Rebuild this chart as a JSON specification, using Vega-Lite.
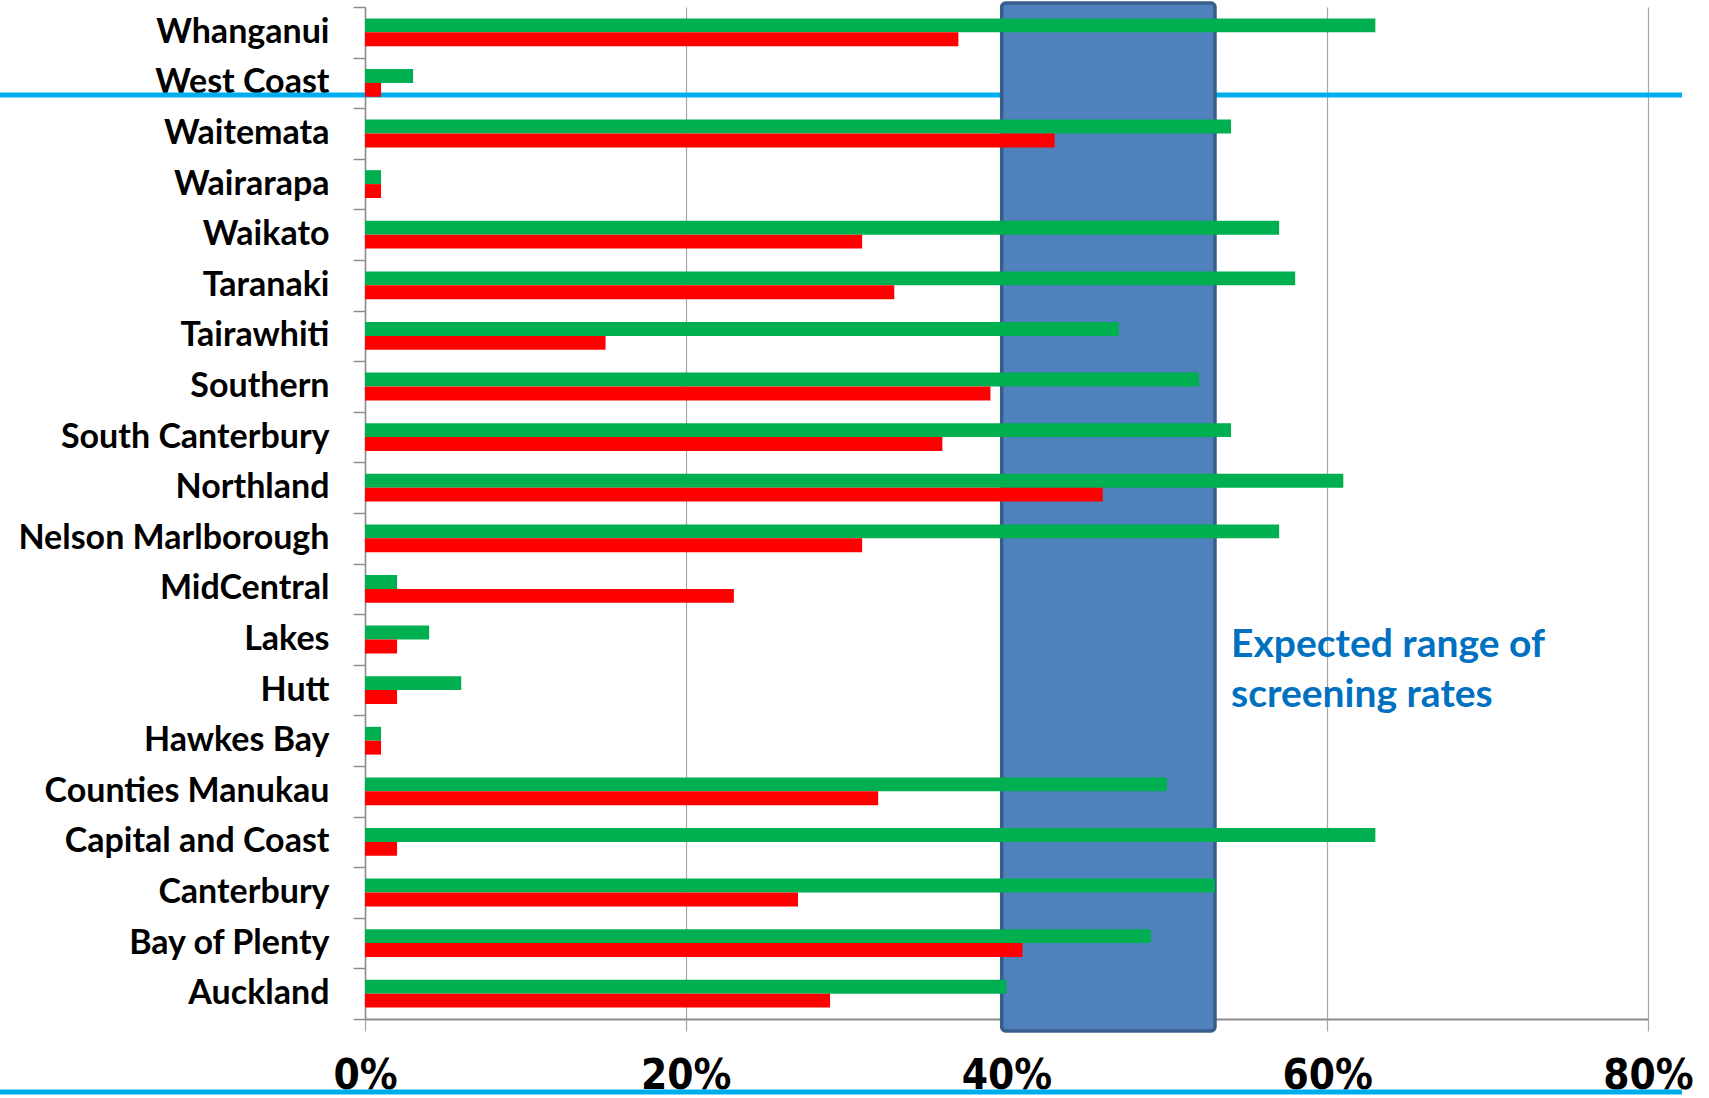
{
  "$schema": "https://vega.github.io/schema/vega-lite/v6.json",
  "width": 1283,
  "height": 1012,
  "autosize": {"type": "none"},
  "padding": {"left": 365, "top": 7, "right": 61, "bottom": 79},
  "background": "white",
  "config": {"view": {"stroke": null}},
  "datasets": {
    "rates": [
      {"district": "Whanganui", "series": "Series 1", "rate": 0.63},
      {"district": "Whanganui", "series": "Series 2", "rate": 0.37},
      {"district": "West Coast", "series": "Series 1", "rate": 0.03},
      {"district": "West Coast", "series": "Series 2", "rate": 0.01},
      {"district": "Waitemata", "series": "Series 1", "rate": 0.54},
      {"district": "Waitemata", "series": "Series 2", "rate": 0.43},
      {"district": "Wairarapa", "series": "Series 1", "rate": 0.01},
      {"district": "Wairarapa", "series": "Series 2", "rate": 0.01},
      {"district": "Waikato", "series": "Series 1", "rate": 0.57},
      {"district": "Waikato", "series": "Series 2", "rate": 0.31},
      {"district": "Taranaki", "series": "Series 1", "rate": 0.58},
      {"district": "Taranaki", "series": "Series 2", "rate": 0.33},
      {"district": "Tairawhiti", "series": "Series 1", "rate": 0.47},
      {"district": "Tairawhiti", "series": "Series 2", "rate": 0.15},
      {"district": "Southern", "series": "Series 1", "rate": 0.52},
      {"district": "Southern", "series": "Series 2", "rate": 0.39},
      {"district": "South Canterbury", "series": "Series 1", "rate": 0.54},
      {"district": "South Canterbury", "series": "Series 2", "rate": 0.36},
      {"district": "Northland", "series": "Series 1", "rate": 0.61},
      {"district": "Northland", "series": "Series 2", "rate": 0.46},
      {"district": "Nelson Marlborough", "series": "Series 1", "rate": 0.57},
      {"district": "Nelson Marlborough", "series": "Series 2", "rate": 0.31},
      {"district": "MidCentral", "series": "Series 1", "rate": 0.02},
      {"district": "MidCentral", "series": "Series 2", "rate": 0.23},
      {"district": "Lakes", "series": "Series 1", "rate": 0.04},
      {"district": "Lakes", "series": "Series 2", "rate": 0.02},
      {"district": "Hutt", "series": "Series 1", "rate": 0.06},
      {"district": "Hutt", "series": "Series 2", "rate": 0.02},
      {"district": "Hawkes Bay", "series": "Series 1", "rate": 0.01},
      {"district": "Hawkes Bay", "series": "Series 2", "rate": 0.01},
      {"district": "Counties Manukau", "series": "Series 1", "rate": 0.50},
      {"district": "Counties Manukau", "series": "Series 2", "rate": 0.32},
      {"district": "Capital and Coast", "series": "Series 1", "rate": 0.63},
      {"district": "Capital and Coast", "series": "Series 2", "rate": 0.02},
      {"district": "Canterbury", "series": "Series 1", "rate": 0.53},
      {"district": "Canterbury", "series": "Series 2", "rate": 0.27},
      {"district": "Bay of Plenty", "series": "Series 1", "rate": 0.49},
      {"district": "Bay of Plenty", "series": "Series 2", "rate": 0.41},
      {"district": "Auckland", "series": "Series 1", "rate": 0.40},
      {"district": "Auckland", "series": "Series 2", "rate": 0.29}
    ],
    "notes": [
      {"district": "Lakes", "label": "Expected range of"},
      {"district": "Hutt", "label": "screening rates"}
    ]
  },
  "layer": [
    {
      "data": {"values": [{}]},
      "layer": [
        {
          "mark": {"type": "rule", "color": "#00AEEF", "strokeWidth": 5},
          "encoding": {
            "x": {"datum": -0.2276, "type": "quantitative", "title": null},
            "x2": {"datum": 0.8212},
            "y": {"datum": 0.913, "type": "quantitative", "scale": {"domain": [0, 1], "nice": false, "zero": false}, "axis": null}
          }
        },
        {
          "mark": {"type": "rect", "fill": "#4F81BD", "stroke": "#385D8A", "strokeWidth": 3.5, "cornerRadius": 4},
          "encoding": {
            "x": {"datum": 0.397, "type": "quantitative", "title": null},
            "x2": {"datum": 0.530},
            "y": {"datum": -0.0119, "type": "quantitative", "axis": null},
            "y2": {"datum": 1.004}
          }
        },
        {
          "mark": {"type": "rule", "color": "#00AEEF", "strokeWidth": 5},
          "encoding": {
            "x": {"datum": -0.2276, "type": "quantitative", "title": null},
            "x2": {"datum": 0.8212},
            "y": {"datum": -0.0721, "type": "quantitative", "axis": null}
          }
        }
      ]
    },
    {
      "layer": [
        {
          "data": {"name": "rates"},
          "mark": {"type": "bar"},
          "encoding": {
            "y": {
              "field": "district", "type": "nominal",
              "scale": {"domain": ["Whanganui", "West Coast", "Waitemata", "Wairarapa", "Waikato", "Taranaki", "Tairawhiti", "Southern", "South Canterbury", "Northland", "Nelson Marlborough", "MidCentral", "Lakes", "Hutt", "Hawkes Bay", "Counties Manukau", "Capital and Coast", "Canterbury", "Bay of Plenty", "Auckland"], "paddingInner": 0, "paddingOuter": 0},
              "axis": {"title": null, "tickBand": "extent", "domainColor": "#8C8C8C", "domainWidth": 1.5, "tickColor": "#8C8C8C", "tickWidth": 1.5, "tickSize": 12, "labelFont": "Lato", "labelFontWeight": "bold", "labelFontSize": 34, "labelColor": "black", "labelPadding": 24, "labelLimit": 0, "grid": false}
            },
            "yOffset": {"field": "series", "type": "nominal", "scale": {"domain": ["Series 1", "Series 2"], "paddingInner": 0, "paddingOuter": 0.818}},
            "x": {
              "field": "rate", "type": "quantitative",
              "scale": {"domain": [0, 0.8], "nice": false},
              "axis": {"title": null, "values": [0, 0.2, 0.4, 0.6, 0.8], "format": ".0%", "grid": true, "gridColor": "#A6A6A6", "gridWidth": 1.2, "domainColor": "#8C8C8C", "domainWidth": 2, "tickColor": "#A6A6A6", "tickWidth": 1.2, "tickSize": 12, "labelFont": "DejaVu Sans Condensed, Liberation Sans, sans-serif", "labelFontWeight": "bold", "labelFontSize": 42, "labelColor": "black", "labelPadding": 24, "labelFlush": false, "labelOverlap": false}
            },
            "color": {"field": "series", "type": "nominal", "scale": {"domain": ["Series 1", "Series 2"], "range": ["#00B050", "#FF0000"]}, "legend": null}
          }
        },
        {
          "data": {"name": "notes"},
          "mark": {"type": "text", "align": "left", "baseline": "middle", "font": "Lato", "fontWeight": "bold", "fontSize": 39, "color": "#0070C0", "dy": 5},
          "encoding": {
            "x": {"datum": 0.54, "type": "quantitative", "title": null},
            "y": {"field": "district", "type": "nominal"},
            "text": {"field": "label"}
          }
        }
      ]
    }
  ],
  "resolve": {"scale": {"y": "independent"}, "axis": {"y": "independent"}}
}
